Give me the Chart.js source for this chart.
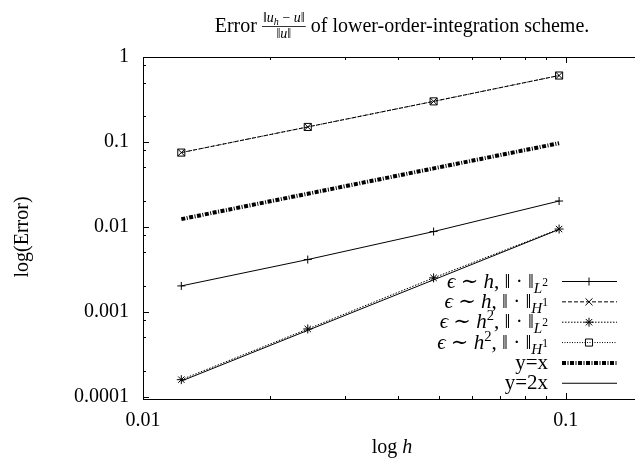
<!DOCTYPE html>
<html>
<head>
<meta charset="utf-8">
<script src="https://cdn.jsdelivr.net/npm/chart.js@4.4.1/dist/chart.umd.min.js"></script>
<style>
  html, body { margin: 0; padding: 0; background: #fff; overflow: hidden; }
  #wrap { width: 635px; height: 465px; position: relative; }
</style>
</head>
<body>
<div id="wrap"><canvas id="c" width="635" height="465"></canvas></div>
<script>
// Mesh sizes h and the measured relative errors
const meshSizes       = [0.01232, 0.02453, 0.04868, 0.09643];
const errL2Linear     = [0.00201, 0.00411, 0.00878, 0.0201];
const errH1Linear     = [0.0748, 0.150, 0.300, 0.605];
const errL2Quadratic  = [0.000158, 0.000625, 0.00250, 0.0094];
const errH1Quadratic  = [0.0748, 0.150, 0.300, 0.605];
// Reference slopes
const refSlopeOne     = [0.0123, 0.0245, 0.0487, 0.0964];
const refSlopeTwo     = [0.000152, 0.000602, 0.00237, 0.0093];
// Axis tick labels
const xTickValues = [0.01, 0.1];
const xTickLabels = ['0.01', '0.1'];
const yTickValues = [0.0001, 0.001, 0.01, 0.1, 1];
const yTickLabels = ['0.0001', '0.001', '0.01', '0.1', '1'];

const FAMILY = "'Liberation Serif', 'DejaVu Serif', serif";
const BASE = 20;
const KEY_SIZE = 21;

const pts = ys => meshSizes.map((h, i) => ({ x: h, y: ys[i] }));

// Line/marker styles per series (shared by plot and key)
const styles = [
  { dash: [],            width: 1, point: 'cross',    radius: 4 },
  { dash: [4, 2],        width: 1, point: 'crossRot', radius: 5 },
  { dash: [1.5, 1.5],    width: 1, point: 'star',     radius: 4.5 },
  { dash: [1, 1.5],      width: 1, point: 'rect',     radius: 5 },
  { dash: [4, 1.5, 1, 1.5], width: 4, point: false,   radius: 0 },
  { dash: [],            width: 1, point: false,      radius: 0 }
];
const seriesValues = [errL2Linear, errH1Linear, errL2Quadratic, errH1Quadratic, refSlopeOne, refSlopeTwo];

// Key labels as rich-text runs
const normSub = (letter, sup) => [
  { t: letter, it: true, s: 0.72, dy: 5 },
  { t: sup, s: 0.55, dy: -2 }
];
const keyLabels = [
  [{ t: 'ϵ', it: true }, { t: ' ∼ ' }, { t: 'h', it: true }, { t: ', ‖ · ‖' }, ...normSub('L', '2')],
  [{ t: 'ϵ', it: true }, { t: ' ∼ ' }, { t: 'h', it: true }, { t: ', ‖ · ‖' }, ...normSub('H', '1')],
  [{ t: 'ϵ', it: true }, { t: ' ∼ ' }, { t: 'h', it: true }, { t: '2', s: 0.7, dy: -8 }, { t: ', ‖ · ‖' }, ...normSub('L', '2')],
  [{ t: 'ϵ', it: true }, { t: ' ∼ ' }, { t: 'h', it: true }, { t: '2', s: 0.7, dy: -8 }, { t: ', ‖ · ‖' }, ...normSub('H', '1')],
  [{ t: 'y=x' }],
  [{ t: 'y=2x' }]
];

function fontOf(seg, size) {
  return (seg.it ? 'italic ' : '') + (size * (seg.s || 1)).toFixed(2) + 'px ' + FAMILY;
}
function richWidth(ctx, segs, size) {
  let w = 0;
  for (const s of segs) { ctx.font = fontOf(s, size); w += ctx.measureText(s.t).width; }
  return w;
}
function drawRich(ctx, segs, x, y, align, size) {
  const total = richWidth(ctx, segs, size);
  let cx = align === 'right' ? x - total : align === 'center' ? x - total / 2 : x;
  ctx.textAlign = 'left';
  ctx.textBaseline = 'alphabetic';
  for (const s of segs) {
    ctx.font = fontOf(s, size);
    ctx.fillText(s.t, cx, y + (s.dy || 0));
    cx += ctx.measureText(s.t).width;
  }
  return total;
}

const decorations = {
  id: 'decorations',
  afterDraw(chart) {
    const ctx = chart.ctx;
    const a = chart.chartArea;
    const xs = chart.scales.x, ys = chart.scales.y;
    ctx.save();
    ctx.strokeStyle = '#000';
    ctx.fillStyle = '#000';
    ctx.lineWidth = 1;
    ctx.setLineDash([]);

    // frame: left, bottom, top (the right side runs off the canvas)
    ctx.beginPath();
    ctx.moveTo(a.left + 0.5, a.top + 0.5);
    ctx.lineTo(a.left + 0.5, a.bottom + 0.5);
    ctx.moveTo(a.left, a.bottom + 0.5);
    ctx.lineTo(chart.width, a.bottom + 0.5);
    ctx.moveTo(a.left, a.top + 0.5);
    ctx.lineTo(chart.width, a.top + 0.5);
    ctx.stroke();

    // inward ticks
    ctx.beginPath();
    for (let e = -2; e <= -1; e++) {
      for (let k = 1; k <= 9; k++) {
        const v = k * Math.pow(10, e);
        if (v < xs.min || v > xs.max) continue;
        const px = Math.round(xs.getPixelForValue(v)) + 0.5;
        const len = k === 1 ? 6 : 3;
        ctx.moveTo(px, a.bottom); ctx.lineTo(px, a.bottom - len);
        ctx.moveTo(px, a.top); ctx.lineTo(px, a.top + len);
      }
    }
    for (let e = -5; e <= 0; e++) {
      for (const k of [1, 2, 5, 8]) {
        const v = k * Math.pow(10, e);
        if (v < ys.min || v > ys.max) continue;
        const py = Math.round(ys.getPixelForValue(v)) + 0.5;
        const len = k === 1 ? 6 : 3;
        ctx.moveTo(a.left, py); ctx.lineTo(a.left + len, py);
      }
    }
    ctx.stroke();

    // key, bottom-right inside the plot
    const textRight = 548, lineL = 562, lineR = 617, mark = 589;
    keyLabels.forEach((segs, i) => {
      const rowY = 281.5 + i * 20.35;
      ctx.fillStyle = '#000';
      drawRich(ctx, segs, textRight, rowY + 6, 'right', KEY_SIZE);
      const st = styles[i];
      ctx.setLineDash(st.dash);
      ctx.lineWidth = st.width;
      ctx.beginPath();
      ctx.moveTo(lineL, rowY);
      ctx.lineTo(lineR, rowY);
      ctx.stroke();
      ctx.setLineDash([]);
      if (st.point) {
        ctx.lineWidth = 1;
        ctx.fillStyle = 'rgba(0,0,0,0)';
        Chart.helpers.drawPoint(ctx, { pointStyle: st.point, radius: st.radius, borderWidth: 1, rotation: 0 }, mark, rowY);
      }
    });
    ctx.fillStyle = '#000';

    // title with the fraction ||u_h - u|| / ||u||
    const tsize = BASE;
    const fsize = 14;
    const left = [{ t: 'Error ' }];
    const right = [{ t: ' of lower-order-integration scheme.' }];
    const num = [{ t: '‖' }, { t: 'u', it: true }, { t: 'h', it: true, s: 0.72, dy: 3 }, { t: ' − ' }, { t: 'u', it: true }, { t: '‖' }];
    const den = [{ t: '‖' }, { t: 'u', it: true }, { t: '‖' }];
    const wl = richWidth(ctx, left, tsize);
    const wr = richWidth(ctx, right, tsize);
    const wn = richWidth(ctx, num, fsize);
    const wd = richWidth(ctx, den, fsize);
    const wf = Math.max(wn, wd) + 2;
    const total = wl + wf + wr;
    const tBase = 32;
    const x0 = 402 - total / 2;
    drawRich(ctx, left, x0, tBase, 'left', tsize);
    const fx = x0 + wl;
    drawRich(ctx, num, fx + wf / 2, 22, 'center', fsize);
    ctx.fillRect(fx, 26, wf, 0.8);
    drawRich(ctx, den, fx + wf / 2, 38, 'center', fsize);
    drawRich(ctx, right, fx + wf, tBase, 'left', tsize);

    // axis titles
    drawRich(ctx, [{ t: 'log ' }, { t: 'h', it: true }], 392, 453, 'center', BASE);
    ctx.save();
    ctx.translate(28, 237);
    ctx.rotate(-Math.PI / 2);
    ctx.font = BASE + 'px ' + FAMILY;
    ctx.textAlign = 'center';
    ctx.textBaseline = 'alphabetic';
    ctx.fillText('log(Error)', 0, 0);
    ctx.restore();

    ctx.restore();
  }
};

const datasets = seriesValues.map((vals, i) => {
  const st = styles[i];
  return {
    data: pts(vals),
    showLine: true,
    borderColor: '#000',
    backgroundColor: 'rgba(0,0,0,0)',
    borderWidth: st.width,
    borderDash: st.dash,
    pointStyle: st.point || 'circle',
    pointRadius: st.radius,
    pointHoverRadius: st.radius,
    pointBorderColor: '#000',
    pointBackgroundColor: 'rgba(0,0,0,0)',
    pointBorderWidth: 1,
    order: 6 - i,
    tension: 0
  };
});

new Chart(document.getElementById('c'), {
  type: 'scatter',
  data: { datasets },
  options: {
    responsive: false,
    animation: false,
    events: [],
    layout: { padding: { top: 57, right: 0, bottom: 0, left: 0 } },
    plugins: { legend: { display: false }, tooltip: { enabled: false }, title: { display: false } },
    scales: {
      x: {
        type: 'logarithmic',
        min: 0.01,
        max: 0.1411,
        bounds: 'data',
        grid: { display: false, drawTicks: false },
        border: { display: false },
        afterBuildTicks: s => { s.ticks = xTickValues.map(v => ({ value: v })); },
        afterFit: s => { s.height = 66; s.paddingLeft = 0; s.paddingRight = 0; },
        ticks: {
          autoSkip: false,
          maxRotation: 0,
          padding: 10,
          color: '#000',
          font: { family: FAMILY, size: BASE },
          callback: v => xTickLabels[xTickValues.findIndex(t => Math.abs(t - v) < t * 1e-6)] ?? ''
        }
      },
      y: {
        type: 'logarithmic',
        min: 0.0000935,
        max: 1,
        bounds: 'data',
        grid: { display: false, drawTicks: false },
        border: { display: false },
        afterBuildTicks: s => { s.ticks = yTickValues.map(v => ({ value: v })); },
        afterFit: s => { s.width = 143; s.paddingTop = 0; s.paddingBottom = 0; },
        ticks: {
          autoSkip: false,
          padding: 14,
          color: '#000',
          font: { family: FAMILY, size: BASE },
          callback: v => yTickLabels[yTickValues.findIndex(t => Math.abs(t - v) < t * 1e-6)] ?? ''
        }
      }
    }
  },
  plugins: [decorations]
});
</script>
</body>
</html>
